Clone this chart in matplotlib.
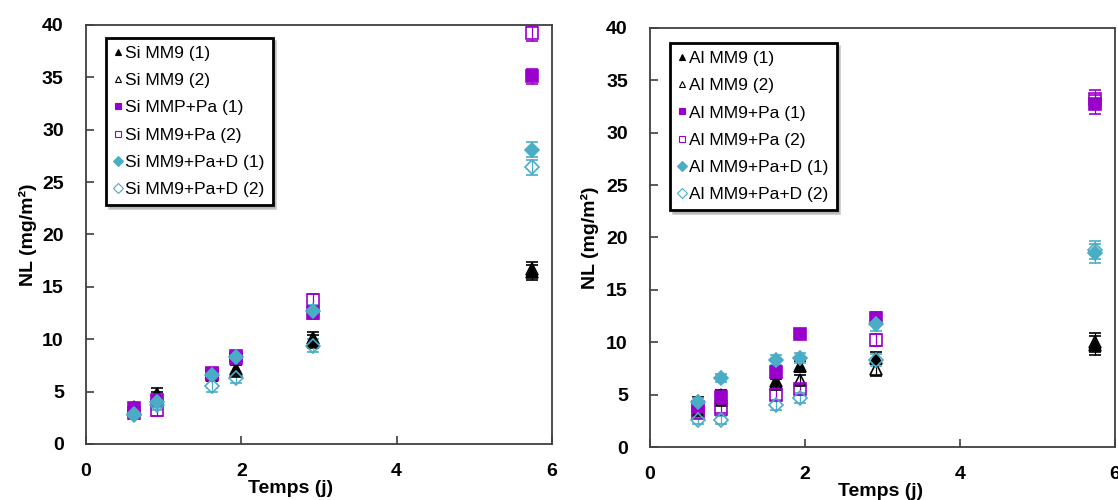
import matplotlib
matplotlib.use("Agg")
import matplotlib.pyplot as plt
from matplotlib.lines import Line2D

plt.rcParams["font.family"] = ["Liberation Sans", "DejaVu Sans"]

# sampling times (days)
temps = [0.62, 0.91, 1.62, 1.93, 2.92, 5.74]

# --- Si panel ---
si_labels = ["Si MM9 (1)", "Si MM9 (2)", "Si MMP+Pa (1)", "Si MM9+Pa (2)",
             "Si MM9+Pa+D (1)", "Si MM9+Pa+D (2)"]
si_mm9_1 = [3.5, 4.8, 6.6, 7.2, 9.8, 16.4]
si_mm9_2 = [3.3, 4.5, 6.7, 7.0, 10.1, 16.7]
si_pa_1 = [3.4, 4.2, 6.7, 8.2, 12.5, 35.1]
si_pa_2 = [3.0, 3.2, 6.8, 8.4, 13.7, 39.2]
si_d_1 = [2.9, 4.0, 6.6, 8.3, 12.7, 28.1]
si_d_2 = [2.8, 3.7, 5.5, 6.3, 9.4, 26.4]
si_err = [0.4, 0.5, 0.5, 0.5, 0.6, 0.7]

# --- Al panel ---
al_labels = ["Al MM9 (1)", "Al MM9 (2)", "Al MM9+Pa (1)", "Al MM9+Pa (2)",
             "Al MM9+Pa+D (1)", "Al MM9+Pa+D (2)"]
al_mm9_1 = [3.5, 5.0, 6.3, 7.7, 8.5, 9.7]
al_mm9_2 = [4.4, 4.5, 6.0, 6.4, 7.4, 10.0]
al_pa_1 = [3.8, 4.8, 7.2, 10.8, 12.3, 32.7]
al_pa_2 = [3.2, 3.6, 5.0, 5.5, 10.2, 33.2]
al_d_1 = [4.3, 6.6, 8.3, 8.5, 11.7, 18.5]
al_d_2 = [2.6, 2.6, 4.0, 4.7, 8.3, 18.8]
al_err = [0.4, 0.4, 0.5, 0.5, 0.6, 0.9]

BLACK = "#000000"
PURPLE = "#9900CC"
CYAN = "#4BACC6"

# (marker, color, filled)
styles = [
    ("^", BLACK, True),
    ("^", BLACK, False),
    ("s", PURPLE, True),
    ("s", PURPLE, False),
    ("D", CYAN, True),
    ("D", CYAN, False),
]
sizes = {"^": 8, "s": 8.5, "D": 7.5}


def draw_panel(ax, series, labels, err, legend_bbox, xlabel_x, ylabel_x):
    for ys, (mk, col, filled), lab in zip(series, styles, labels):
        ax.errorbar(
            temps, ys, yerr=err,
            fmt=mk, color=col, ecolor=col,
            mfc=col if filled else "none", mec=col,
            ms=sizes[mk], mew=1.2, elinewidth=0.9, capsize=4, capthick=0.9,
            zorder=3,
        )

    ax.set_xlim(0, 6)
    ax.set_ylim(0, 40)
    ax.set_xticks([0, 2, 4, 6])
    ax.set_yticks(range(0, 41, 5))
    ax.tick_params(direction="in", length=6, width=1.2, color="#404040",
                   labelsize=14)
    ax.tick_params(axis="x", pad=14)
    ax.tick_params(axis="y", pad=16)
    for lbl in ax.get_xticklabels() + ax.get_yticklabels():
        lbl.set_fontweight("bold")
    for sp in ax.spines.values():
        sp.set_color("#404040")
        sp.set_linewidth(1.3)

    ax.set_xlabel("Temps (j)", fontsize=14, fontweight="bold")
    ax.xaxis.set_label_coords(xlabel_x, -0.085)
    ax.set_ylabel("NL (mg/m²)", fontsize=14, fontweight="bold")
    ax.yaxis.set_label_coords(ylabel_x, 0.5)

    handles = [
        Line2D([], [], linestyle="none", marker=mk, color=col,
               mfc=col if filled else "none", mec=col, ms=5, mew=0.8)
        for mk, col, filled in styles
    ]
    leg = ax.legend(
        handles, labels, loc="upper left", bbox_to_anchor=legend_bbox,
        fontsize=12.5, handlelength=0.5, handletextpad=0.15,
        labelspacing=0.7, borderpad=0.45, fancybox=False,
        shadow={"color": "0.6", "alpha": 0.5},
        framealpha=1.0,
    )
    leg.get_frame().set_edgecolor("black")
    leg.get_frame().set_linewidth(2.0)


fig = plt.figure(figsize=(11.18, 5), dpi=100)
fig.patch.set_facecolor("white")

ax1 = fig.add_axes([0.0769, 0.112, 0.4168, 0.838])
ax2 = fig.add_axes([0.5814, 0.106, 0.4159, 0.838])

draw_panel(ax1, [si_mm9_1, si_mm9_2, si_pa_1, si_pa_2, si_d_1, si_d_2],
           si_labels, si_err, (0.025, 0.99), 0.44, -0.105)
draw_panel(ax2, [al_mm9_1, al_mm9_2, al_pa_1, al_pa_2, al_d_1, al_d_2],
           al_labels, al_err, (0.025, 0.985), 0.495, -0.11)

fig.savefig("out.png", dpi=100)
